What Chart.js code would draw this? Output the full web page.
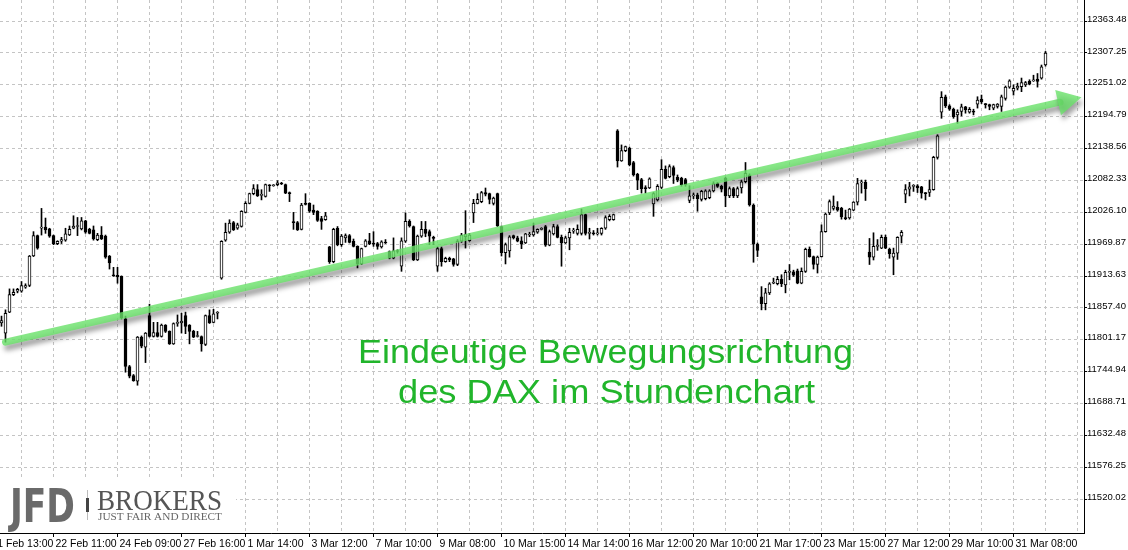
<!DOCTYPE html>
<html>
<head>
<meta charset="utf-8">
<script src="https://cdn.jsdelivr.net/npm/chart.js@4.4.1/dist/chart.umd.min.js"></script>
<style>
  html, body { margin: 0; padding: 0; background: #fff; }
  #wrap { width: 1128px; height: 550px; position: relative; }
</style>
</head>
<body>
<div id="wrap"><canvas id="dax-chart" width="1128" height="550"></canvas></div>
<script>
// DAX hourly candles (H1), one entry per bar
const opens = [
  11831,11813,11850,11881,11887,11887,11894,11897,11949,11985,
  11998,12000,11997,11985,11971,11975,11977,11986,11998,12001,
  11997,12011,11996,11995,11978,11986,11984,11949,11915,11915,
  11913,11838,11754,11738,11728,11806,11788,11844,11807,11814,
  11807,11827,11816,11794,11830,11831,11844,11827,11816,11807,
  11807,11793,11844,11832,11848,11910,11977,11991,12008,11998,
  12001,12026,12042,12059,12066,12056,12054,12074,12073,12075,
  12077,12075,12061,12009,12008,11996,12042,12042,12030,12028,
  12015,12013,11965,11939,11998,11969,11981,11985,11975,11966,
  11935,11966,11976,11971,11971,11965,11973,11957,11945,11958,
  11931,11975,12010,12001,11942,11984,11996,11992,11981,11931,
  11962,11939,11945,11944,11934,11975,11983,11976,12025,12042,
  12045,12061,12059,12042,12059,12001,11955,11958,11985,11981,
  11976,11972,11986,11986,11991,11996,12001,11968,11988,12001,
  11982,11972,11981,11993,11989,11989,12022,11989,11989,11988,
  11989,11998,12013,12013,12170,12117,12135,12139,12114,12093,
  12084,12069,12069,12041,12048,12070,12102,12089,12105,12088,
  12086,12084,12047,12055,12057,12049,12050,12052,12064,12077,
  12072,12086,12055,12068,12055,12069,12080,12092,12039,11970,
  11877,11865,11884,11901,11900,11908,11898,11920,11921,11923,
  11901,11922,11961,11948,11934,11948,11992,12025,12033,12035,
  12033,12016,12016,12030,12044,12078,12079,11956,11947,11966,
  11963,11982,11961,11947,11954,11984,12058,12067,12072,12073,
  12071,12060,12061,12066,12123,12203,12230,12214,12208,12198,
  12204,12212,12203,12204,12217,12226,12217,12216,12210,12213,
  12213,12227,12247,12240,12245,12248,12251,12257,12258,12261,
  12263,12286
];
const highs = [
  11843,11854,11891,11891,11892,11904,11900,11950,11992,11986,
  12033,12016,11998,11986,11976,11982,11998,12002,12020,12017,
  12017,12012,11998,12002,11989,12001,11986,11950,11929,11929,
  11914,11843,11756,11740,11807,11808,11814,11864,11832,11832,
  11829,11828,11817,11831,11845,11848,11850,11828,11818,11816,
  11808,11845,11854,11855,11851,11976,12007,12013,12010,12007,
  12029,12045,12060,12075,12075,12066,12076,12075,12075,12082,
  12079,12076,12062,12026,12010,12042,12059,12043,12039,12029,
  12019,12026,11966,11998,12001,11987,11988,11987,11979,11967,
  11963,11978,11989,11992,11973,11976,11978,11958,11981,11960,
  11981,12025,12013,12002,11986,12010,12010,11995,11984,11965,
  11965,11947,11947,11945,11978,11989,12029,11989,12049,12059,
  12063,12069,12060,12053,12060,12002,11972,11985,11986,11984,
  11983,11989,11991,12007,11997,11999,12003,11995,12005,12004,
  11986,11984,11998,11998,12004,12032,12023,11998,11994,11998,
  11999,12020,12022,12023,12172,12145,12143,12141,12116,12095,
  12086,12073,12087,12061,12075,12119,12108,12110,12108,12092,
  12088,12086,12073,12060,12060,12065,12066,12066,12080,12079,
  12074,12088,12071,12070,12071,12083,12114,12094,12041,11972,
  11895,11892,11902,11910,11913,11916,11924,11934,11924,11926,
  11928,11963,11965,11949,11949,12004,12025,12048,12055,12045,
  12035,12030,12033,12045,12086,12083,12083,11980,11990,11978,
  11986,11986,11963,11963,11983,11994,12075,12079,12075,12075,
  12072,12061,12083,12125,12163,12239,12233,12216,12210,12207,
  12217,12213,12211,12208,12230,12233,12218,12217,12217,12218,
  12233,12249,12260,12251,12254,12263,12257,12260,12268,12271,
  12286,12310
];
const lows = [
  11825,11797,11849,11879,11884,11885,11892,11895,11948,11961,
  11986,11989,11982,11969,11969,11971,11975,11985,11997,11985,
  11995,11989,11988,11977,11976,11978,11945,11926,11913,11901,
  11838,11744,11734,11728,11721,11787,11761,11806,11806,11806,
  11806,11814,11793,11793,11825,11813,11812,11794,11805,11806,
  11781,11791,11830,11831,11838,11908,11975,11989,11994,11996,
  12000,12025,12041,12057,12054,12048,12053,12063,12072,12073,
  12075,12059,12045,11996,11994,11995,12039,12026,12022,12010,
  11996,12012,11936,11937,11967,11966,11973,11972,11965,11928,
  11934,11965,11969,11966,11961,11963,11971,11944,11944,11954,
  11922,11973,12000,11941,11941,11982,11983,11969,11969,11922,
  11931,11938,11939,11931,11932,11973,11963,11975,12008,12041,
  12043,12055,12041,12039,12001,11949,11935,11947,11979,11974,
  11962,11971,11983,11984,11989,11995,11966,11967,11986,11981,
  11931,11971,11960,11989,11986,11986,11986,11979,11986,11986,
  11986,11996,12011,12012,12106,12116,12133,12108,12090,12066,
  12060,12060,12068,12019,12046,12068,12085,12087,12077,12080,
  12072,12072,12043,12050,12028,12046,12048,12050,12062,12070,
  12062,12036,12052,12052,12052,12060,12078,12037,11938,11948,
  11854,11854,11881,11900,11898,11895,11884,11907,11913,11900,
  11900,11920,11947,11926,11919,11947,11991,12022,12030,12028,
  12014,12013,12014,12029,12039,12060,12047,11934,11942,11959,
  11962,11962,11945,11916,11943,11972,12043,12055,12063,12061,
  12051,12048,12054,12065,12120,12192,12211,12206,12192,12183,
  12196,12201,12201,12198,12210,12218,12210,12207,12207,12210,
  12204,12224,12245,12233,12242,12239,12248,12251,12257,12247,
  12261,12284
];
const closes = [
  11835,11848,11881,11885,11890,11897,11897,11949,11985,11963,
  12000,11995,11984,11971,11975,11978,11988,11996,12002,12002,
  12011,11991,11989,11979,11986,11979,11947,11937,11914,11912,
  11840,11754,11737,11729,11806,11790,11813,11807,11814,11807,
  11827,11816,11794,11830,11832,11834,11825,11816,11806,11808,
  11794,11844,11831,11847,11849,11975,11991,12007,11995,12004,
  12028,12042,12059,12068,12055,12057,12075,12073,12074,12078,
  12076,12060,12059,12008,11995,12039,12040,12028,12026,12012,
  12010,12020,11939,11996,11969,11984,11985,11973,11966,11935,
  11962,11976,11971,11970,11966,11974,11972,11945,11958,11957,
  11976,12010,12002,11942,11984,11996,11989,11984,11980,11962,
  11939,11945,11942,11934,11975,11986,11987,11986,12042,12049,
  12061,12058,12049,12051,12002,11955,11969,11983,11981,11975,
  11970,11988,11987,11992,11996,11998,11968,11992,12001,11982,
  11972,11981,11991,11994,11996,12022,11989,11990,11988,11989,
  11998,12017,12019,12022,12117,12135,12142,12110,12092,12083,
  12068,12068,12085,12059,12072,12102,12086,12107,12091,12083,
  12075,12075,12055,12056,12050,12063,12064,12064,12077,12072,
  12067,12055,12068,12055,12068,12080,12095,12039,11970,11959,
  11865,11884,11900,11902,11908,11900,11920,11921,11915,11901,
  11922,11961,11948,11934,11947,11992,12023,12045,12037,12030,
  12018,12015,12032,12044,12077,12080,12068,11947,11966,11967,
  11982,11963,11953,11954,11982,11991,12066,12071,12073,12069,
  12060,12059,12066,12123,12161,12229,12214,12208,12195,12203,
  12212,12207,12208,12203,12224,12221,12216,12213,12216,12217,
  12230,12247,12258,12245,12249,12255,12255,12252,12259,12257,
  12283,12307
];

// time axis labels and the bar they sit on
const timeLabels = ['21 Feb 13:00', '22 Feb 11:00', '24 Feb 09:00', '27 Feb 16:00', '1 Mar 14:00',
  '3 Mar 12:00', '7 Mar 10:00', '9 Mar 08:00', '10 Mar 15:00', '14 Mar 14:00', '16 Mar 12:00',
  '20 Mar 10:00', '21 Mar 17:00', '23 Mar 15:00', '27 Mar 12:00', '29 Mar 10:00', '31 Mar 08:00'];
const timeLabelBars = [-3, 13, 29, 45, 61, 77, 93, 109, 125, 141, 157, 173, 189, 205, 221, 237, 253];

// price scale labels
const priceTicks = ['11520.02', '11576.25', '11632.48', '11688.71', '11744.94', '11801.17', '11857.40',
  '11913.63', '11969.87', '12026.10', '12082.33', '12138.56', '12194.79', '12251.02', '12307.25', '12363.48'];

// green trend arrow [bar, price]
const trendFrom = [1, 11797];
const trendTo = [270, 12229];
const captionLines = ['Eindeutige Bewegungsrichtung', 'des DAX im Stundenchart'];

// vertical grid every 8 bars
const gridBars = [];
for (let b = -3; b <= 270; b += 8) gridBars.push(b);

const wickData = opens.map((o, i) => ({ x: i, y: [lows[i], highs[i]] }));
const bodyData = opens.map((o, i) => ({ x: i, y: [o, closes[i]] }));

const fitText = (ctx, text, x, baseline, width) => {
    const w = ctx.measureText(text).width;
    ctx.save();
    ctx.translate(x, baseline);
    ctx.scale(width / w, 1);
    ctx.fillText(text, 0, 0);
    ctx.restore();
};

const overlayPlugin = {
    id: 'overlay',
    afterDatasetsDraw(chart) {
        const { ctx, scales: { x, y } } = chart;
        const x1 = x.getPixelForValue(trendFrom[0]), y1 = y.getPixelForValue(trendFrom[1]);
        const x2 = x.getPixelForValue(trendTo[0]), y2 = y.getPixelForValue(trendTo[1]);
        const ang = Math.atan2(y2 - y1, x2 - x1);
        const headLen = 24, headHalf = 13;
        const bx = x2 - headLen * Math.cos(ang), by = y2 - headLen * Math.sin(ang);

        ctx.save();
        ctx.shadowColor = 'rgba(0,0,0,0.45)';
        ctx.shadowBlur = 5;
        ctx.shadowOffsetX = 2;
        ctx.shadowOffsetY = 5;
        ctx.strokeStyle = 'rgba(105,225,105,0.8)';
        ctx.fillStyle = 'rgba(105,225,105,0.8)';
        ctx.lineWidth = 7;
        ctx.lineCap = 'round';
        ctx.beginPath();
        ctx.moveTo(x1, y1);
        ctx.lineTo(bx + 2 * Math.cos(ang), by + 2 * Math.sin(ang));
        ctx.stroke();
        ctx.beginPath();
        ctx.moveTo(x2, y2);
        ctx.lineTo(bx + headHalf * Math.sin(ang), by - headHalf * Math.cos(ang));
        ctx.lineTo(bx - headHalf * Math.sin(ang), by + headHalf * Math.cos(ang));
        ctx.closePath();
        ctx.fill();
        ctx.restore();
    },
    afterDraw(chart) {
        const { ctx } = chart;
        ctx.save();
        // caption
        ctx.fillStyle = '#21b52b';
        ctx.font = '33px "Liberation Sans", Arial, sans-serif';
        ctx.textBaseline = 'alphabetic';
        fitText(ctx, captionLines[0], 358, 363, 495);
        fitText(ctx, captionLines[1], 398, 403, 417);

        // broker logo
        ctx.fillStyle = '#fff';
        ctx.fillRect(0, 478, 236, 54);
        const grad = ctx.createLinearGradient(0, 488, 0, 522);
        grad.addColorStop(0, '#6a6a6a');
        grad.addColorStop(1, '#2e2e2e');
        ctx.fillStyle = grad;
        ctx.font = 'bold 47px "Liberation Sans Narrow", "DejaVu Sans Condensed", sans-serif';
        fitText(ctx, 'JFD', 10, 522, 65);
        ctx.fillStyle = '#bbb';
        ctx.fillRect(87, 490, 1, 30);
        ctx.fillStyle = '#444';
        ctx.fillRect(86, 498, 3, 14);
        ctx.fillStyle = '#555';
        ctx.font = '30px "Liberation Serif", serif';
        fitText(ctx, 'BROKERS', 97, 510, 125);
        ctx.fillStyle = '#666';
        ctx.font = '10px "Liberation Serif", serif';
        fitText(ctx, 'JUST FAIR AND DIRECT', 98, 520, 124);
        ctx.restore();
    }
};

const axisFont = { family: 'Liberation Sans', size: 10.5 };

const daxChart = new Chart(document.getElementById('dax-chart'), {
    type: 'bar',
    data: {
        datasets: [
            {
                label: 'Body',
                data: bodyData,
                barThickness: 3,
                borderWidth: 1,
                borderColor: '#000',
                borderSkipped: false,
                minBarLength: 1,
                grouped: false,
                order: 0,
                backgroundColor: (ctx) => closes[ctx.dataIndex] >= opens[ctx.dataIndex] ? '#fff' : '#000'
            },
            {
                label: 'Wick',
                data: wickData,
                barThickness: 1,
                borderWidth: 0,
                backgroundColor: '#000',
                grouped: false,
                order: 1
            }
        ]
    },
    options: {
        responsive: false,
        animation: false,
        layout: { padding: 0 },
        plugins: { legend: { display: false }, tooltip: { enabled: false } },
        scales: {
            x: {
                type: 'linear',
                offset: false,
                min: -0.375,
                max: 270.625,
                afterFit: (s) => { s.height = 17; s.paddingLeft = 0; s.paddingRight = 0; },
                afterBuildTicks: (s) => { s.ticks = gridBars.map(v => ({ value: v })); },
                grid: {
                    offset: false,
                    color: '#c4c4c4',
                    tickLength: 4,
                    tickColor: (ctx) => ctx.tick && timeLabelBars.includes(ctx.tick.value) ? '#000' : 'rgba(0,0,0,0)'
                },
                border: { display: true, color: '#000', dash: [3, 3] },
                ticks: {
                    autoSkip: false,
                    maxRotation: 0,
                    minRotation: 0,
                    align: 'start',
                    labelOffset: 2,
                    padding: 1,
                    color: '#000',
                    font: axisFont,
                    callback: (v) => {
                        const k = timeLabelBars.indexOf(v);
                        return k >= 0 ? timeLabels[k] : '';
                    }
                }
            },
            y: {
                position: 'right',
                min: 11460.3,
                max: 12400.7,
                afterFit: (s) => { s.width = 44; s.paddingTop = 0; s.paddingBottom = 0; },
                afterBuildTicks: (s) => { s.ticks = priceTicks.map(t => ({ value: parseFloat(t) })); },
                grid: { color: '#c4c4c4', tickLength: 3, tickColor: '#000' },
                border: { display: true, color: '#000', dash: [3, 3] },
                ticks: {
                    padding: 0,
                    labelOffset: -2,
                    color: '#000',
                    font: { family: 'Liberation Sans', size: 9.5 },
                    callback: (v) => v.toFixed(2)
                }
            }
        }
    },
    plugins: [overlayPlugin]
});
</script>
</body>
</html>
